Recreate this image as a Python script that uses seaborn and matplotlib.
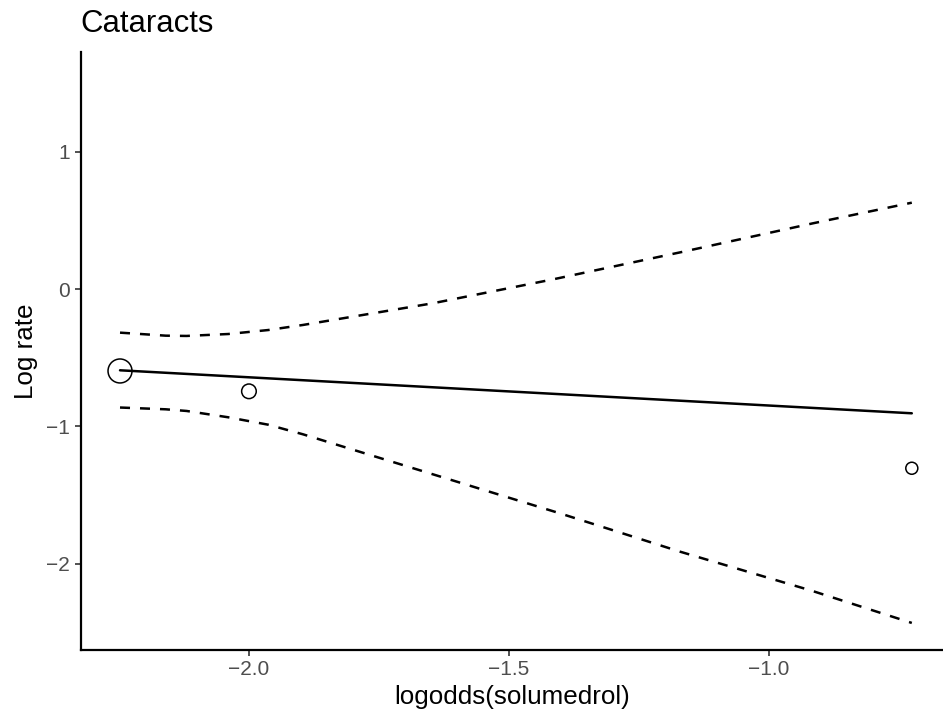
import matplotlib
matplotlib.use("Agg")
import matplotlib.pyplot as plt
import seaborn as sns
import numpy as np
import pandas as pd

# ---- data ----
study_x = [-2.248, -2.0, -0.725]
study_y = [-0.596, -0.744, -1.304]
study_weight = [1.0, 0.37, 0.25]

fit_x = [-2.248, -0.725]
fit_y = [-0.591, -0.904]

upper_x = [-2.248, -2.160, -2.120, -2.040, -1.963, -1.896, -1.646, -1.415, -1.165, -0.915, -0.725]
upper_y = [-0.317, -0.339, -0.341, -0.327, -0.298, -0.261, -0.103, 0.071, 0.272, 0.479, 0.629]

lower_x = [-2.248, -2.160, -2.120, -2.040, -1.963, -1.896, -1.569, -1.402, -1.171, -0.918, -0.725]
lower_y = [-0.862, -0.875, -0.887, -0.933, -0.987, -1.057, -1.438, -1.632, -1.911, -2.195, -2.430]

x_ticks = [-2.0, -1.5, -1.0]
y_ticks = [-2, -1, 0, 1]

title = "Cataracts"
x_label = "logodds(solumedrol)"
y_label = "Log rate"

# ---- plotting ----
sns.set_theme(style="white")
plt.rcParams['font.family'] = ['Liberation Sans', 'DejaVu Sans']

fig = plt.figure(figsize=(9.43, 7.2), dpi=100)
ax = fig.add_axes([80.5 / 943, (720 - 650) / 720, (943 - 80.5) / 943, (650 - 51.7) / 720])

lw = 1.8
sns.lineplot(x=upper_x, y=upper_y, ax=ax, color="black", linewidth=lw,
             linestyle=(0, (4, 4)), estimator=None, sort=True)
sns.lineplot(x=lower_x, y=lower_y, ax=ax, color="black", linewidth=lw,
             linestyle=(0, (4, 4)), estimator=None, sort=True)
sns.lineplot(x=fit_x, y=fit_y, ax=ax, color="black", linewidth=lw,
             estimator=None, sort=True)

pts = pd.DataFrame({"x": study_x, "y": study_y, "w": study_weight})
sns.scatterplot(data=pts, x="x", y="y", size="w", sizes=(75, 298),
                size_norm=(min(study_weight), max(study_weight)),
                facecolor="none", edgecolor="black", linewidth=1.1,
                legend=False, ax=ax, zorder=3)

ax.set_xlim(-2.324, -0.665)
ax.set_ylim(-2.627, 1.728)
ax.set_xticks(x_ticks)
ax.set_xticklabels([f"{v:.1f}".replace("-", "\u2212") for v in x_ticks])
ax.set_yticks(y_ticks)
ax.set_yticklabels([f"{v:d}".replace("-", "\u2212") for v in y_ticks])

sns.despine(ax=ax)
for s in ["left", "bottom"]:
    ax.spines[s].set_color("black")
    ax.spines[s].set_linewidth(1.6)

ax.tick_params(axis="both", which="major", length=4.5, width=1.2,
               color="#333333", labelsize=15, labelcolor="#4D4D4D", pad=3,
               bottom=True, left=True)

ax.set_xlabel(x_label, fontsize=18.7, color="black", labelpad=4)
ax.set_ylabel(y_label, fontsize=18.7, color="black", labelpad=6)
ax.set_title(title, fontsize=22.4, color="black", loc="left", pad=14, x=0.0)
ax.grid(False)

fig.savefig("out.png", dpi=100)
